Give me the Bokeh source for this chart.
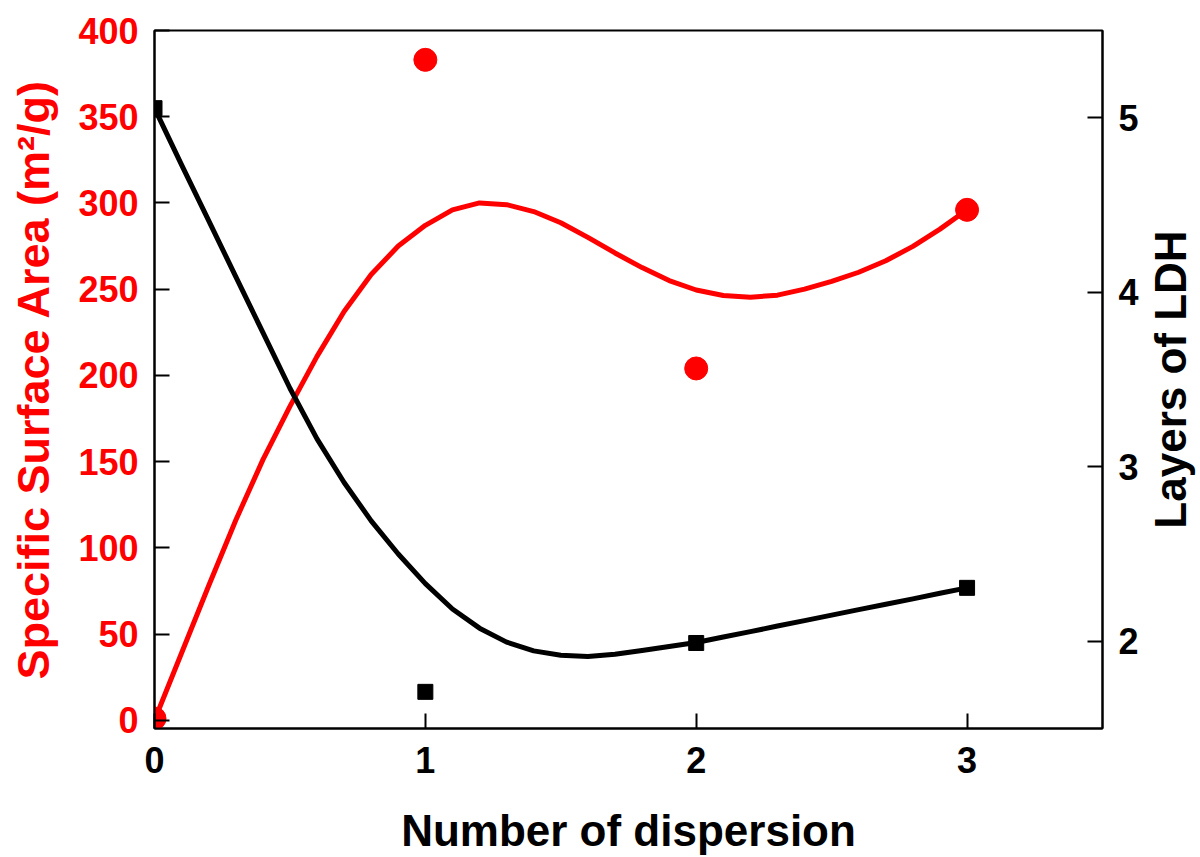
import math
from bokeh.plotting import figure
from bokeh.models import Range1d, LinearAxis, FixedTicker, Label
from bokeh.embed import file_html
from bokeh.resources import INLINE

# ---- data ----
dispersion = [0, 1, 2, 3]
surface_area = [1, 383, 204, 296]          # m2/g (left axis)
layers = [5.055, 1.71, 1.99, 2.306]        # layers of LDH (right axis)

# fitted curves
curve_x = [0.0, 0.1, 0.2, 0.3, 0.4, 0.5, 0.6, 0.7, 0.8, 0.9, 1.0,
           1.1, 1.2, 1.3, 1.4, 1.5, 1.6, 1.7, 1.8, 1.9, 2.0,
           2.1, 2.2, 2.3, 2.4, 2.5, 2.6, 2.7, 2.8, 2.9, 3.0]
surface_curve = [0, 39, 78, 116, 151, 182, 211, 237, 258.5, 275, 287,
                 296, 300, 299, 295, 288.5, 280, 271, 262.5, 255, 249.5,
                 246.3, 245.3, 246.5, 250, 254.5, 259.8, 266.5, 274.8, 284.8, 296]
layers_curve = [5.055, 4.73, 4.41, 4.09, 3.77, 3.45, 3.16, 2.91, 2.69, 2.50, 2.33,
                2.185, 2.075, 1.995, 1.945, 1.92, 1.913, 1.925, 1.947, 1.97, 1.993,
                2.024, 2.055, 2.087, 2.118, 2.15, 2.181, 2.212, 2.243, 2.275, 2.306]

x_ticks = [0, 1, 2, 3]
left_ticks = [0, 50, 100, 150, 200, 250, 300, 350, 400]
right_ticks = [2, 3, 4, 5]

RED = "#ff0000"
FONT = "Liberation Sans"

p = figure(width=1200, height=857, output_backend="svg", toolbar_location=None,
           x_range=Range1d(0, 3.5), y_range=Range1d(-4.8, 400),
           min_border_left=154, min_border_right=98, min_border_top=30,
           min_border_bottom=127)
p.background_fill_color = "white"
p.border_fill_color = "white"
p.outline_line_color = "black"
p.outline_line_width = 2
p.xgrid.visible = False
p.ygrid.visible = False

p.extra_y_ranges = {"layers": Range1d(1.5, 5.5)}

def style_axis(ax, color):
    ax.axis_line_color = "black"
    ax.axis_line_width = 2
    ax.major_tick_line_color = "black"
    ax.major_tick_line_width = 2
    ax.major_tick_in = 15
    ax.major_tick_out = 0
    ax.minor_tick_line_color = None
    ax.major_label_text_font = FONT
    ax.major_label_text_font_style = "bold"
    ax.major_label_text_font_size = "36px"
    ax.major_label_text_color = color
    ax.axis_label_text_font = FONT
    ax.axis_label_text_font_style = "bold"
    ax.axis_label_text_font_size = "44px"
    ax.axis_label_text_color = color

# bottom axis
xa = p.xaxis[0]
style_axis(xa, "black")
xa.ticker = FixedTicker(ticks=x_ticks)
xa.axis_label = "Number of dispersion"
xa.major_label_standoff = 18
xa.axis_label_standoff = 30

# left axis
ya = p.yaxis[0]
style_axis(ya, RED)
ya.ticker = FixedTicker(ticks=left_ticks)
ya.axis_label = "Specific Surface Area (m\u00b2/g)"
ya.axis_label_text_font_size = "45px"
ya.major_label_standoff = 16
ya.axis_label_standoff = 16

# right axis
ra = LinearAxis(y_range_name="layers", ticker=FixedTicker(ticks=right_ticks))
style_axis(ra, "black")
ra.major_label_standoff = 16
p.add_layout(ra, "right")

# right-axis title, reading bottom-to-top, placed in the right side panel
right_title = Label(x=3.751, y=3.5, y_range_name="layers", text="Layers of LDH",
                    angle=90, angle_units="deg", text_align="center",
                    text_baseline="middle", text_font=FONT,
                    text_font_style="bold", text_font_size="44px",
                    text_color="black")
p.add_layout(right_title, "right")

# red series (left axis)
p.line(curve_x, surface_curve, line_color=RED, line_width=5, line_join="round")
p.scatter(dispersion, surface_area, marker="circle", size=23,
          fill_color=RED, line_color=RED)

# black series (right axis)
p.line(curve_x, layers_curve, line_color="black", line_width=5, line_join="round",
       y_range_name="layers")
p.scatter(dispersion, layers, marker="square", size=15,
          fill_color="black", line_color="black", y_range_name="layers")

open("out.html", "w").write(file_html(p, INLINE))
